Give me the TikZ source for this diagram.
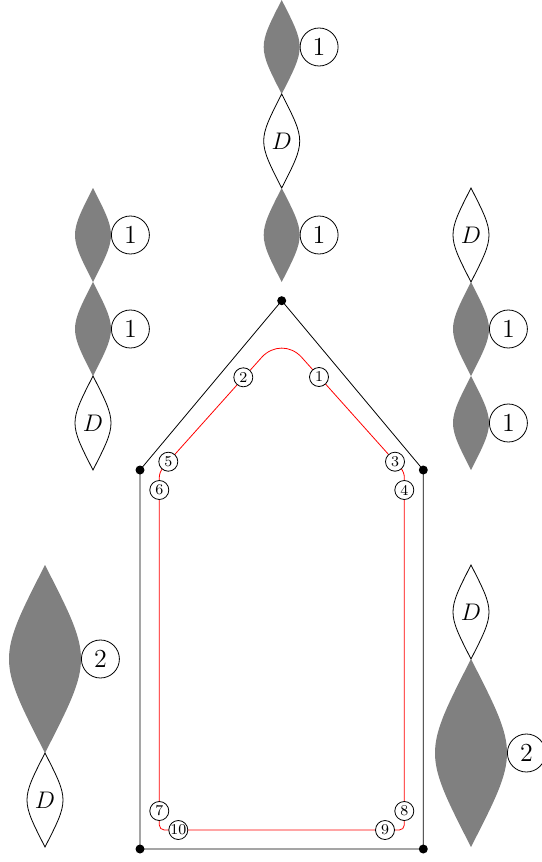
\documentclass[tikz,border=0pt]{standalone}
\newcommand{\mylens}[5]{\path[#1] (#2,#3) .. controls (#2+#5,#3+#4/2) .. (#2,#3+#4) .. controls (#2-#5,#3+#4/2) .. cycle;}
\begin{document}
\begin{tikzpicture}[x=0.5pt,y=-0.5pt,
  graylens/.style={fill=gray,draw=none},
  dlens/.style={fill=white,draw=black},
  bignum/.style={circle,draw,fill=white,minimum size=19pt,inner sep=0pt,font=\fontsize{13}{15}\selectfont,anchor=west},
  pathnum/.style={circle,draw=black,fill=white,minimum size=9.5pt,inner sep=0pt,font=\fontsize{7.5}{9}\selectfont},
  dotpt/.style={circle,fill=black,inner sep=0pt,minimum size=4.5pt},
  dlabel/.style={inner sep=0pt,font=\fontsize{11.5}{13}\selectfont}]
\useasboundingbox (0,0) rectangle (541,862);

% ---- top column (x=281.7)
\mylens{graylens}{281.7}{0}{94}{24}
\mylens{dlens}{281.7}{94}{94}{24}
\mylens{graylens}{281.7}{188}{94}{24}
\node[bignum] (t1) at (299.7,47) {1};
\node[dlabel] (td) at (281.7,141) {$D$};
\node[bignum] (t2) at (299.7,235) {1};

% ---- left column (x=93)
\mylens{graylens}{93}{188}{94}{24}
\mylens{graylens}{93}{282}{94}{24}
\mylens{dlens}{93}{376}{94}{24}
\node[bignum] (l1) at (111,235) {1};
\node[bignum] (l2) at (111,329) {1};
\node[dlabel] (ld) at (93,423) {$D$};

% ---- right column (x=471)
\mylens{dlens}{471}{188}{94}{24}
\mylens{graylens}{471}{282}{94}{24}
\mylens{graylens}{471}{376}{94}{24}
\node[dlabel] (rd) at (471,235) {$D$};
\node[bignum] (r1) at (489,329) {1};
\node[bignum] (r2) at (489,423) {1};

% ---- bottom left (x=45)
\mylens{graylens}{45}{565}{188}{48}
\mylens{dlens}{45}{753}{94}{24}
\node[bignum] (bl2) at (81,659) {2};
\node[dlabel] (bld) at (45,800) {$D$};

% ---- bottom right (x=471)
\mylens{dlens}{471}{565}{94}{24}
\mylens{graylens}{471}{659}{188}{48}
\node[dlabel] (brd) at (471,612) {$D$};
\node[bignum] (br2) at (507,753) {2};

% ---- house
\node[dotpt] (va) at (281.7,300.7) {};
\node[dotpt] (vl) at (140,470) {};
\node[dotpt] (vr) at (423.3,470) {};
\node[dotpt] (vbl) at (140,849) {};
\node[dotpt] (vbr) at (423.3,849) {};
\draw (va.center) -- (vr.center) -- (vbr.center) -- (vbl.center) -- (vl.center) -- cycle;

% ---- red path
\coordinate (ra) at (281.7,335);
\coordinate (rl) at (159.3,472.2);
\coordinate (rr) at (404.3,472);
\coordinate (rbl) at (159.3,830);
\coordinate (rbr) at (404.3,830);
\coordinate (s5) at (168.3,461.7);
\coordinate (s3) at (395,461.7);
\draw[red,rounded corners=15pt] (s5) -- (ra) -- (s3);
\draw[red,rounded corners=2.5pt] (s3) -- (rr) -- (rbr) -- (rbl) -- (rl) -- (s5);

\node[pathnum] (p1) at (319,377) {1};
\node[pathnum] (p2) at (243.3,377.3) {2};
\node[pathnum] (p3) at (395,461.7) {3};
\node[pathnum] (p4) at (404.3,490) {4};
\node[pathnum] (p5) at (168.3,461.7) {5};
\node[pathnum] (p6) at (159.3,490) {6};
\node[pathnum] (p7) at (159.3,811) {7};
\node[pathnum] (p8) at (404.3,811) {8};
\node[pathnum] (p9) at (385,830) {9};
\node[pathnum] (p10) at (178.3,830) {10};
\end{tikzpicture}
\end{document}
